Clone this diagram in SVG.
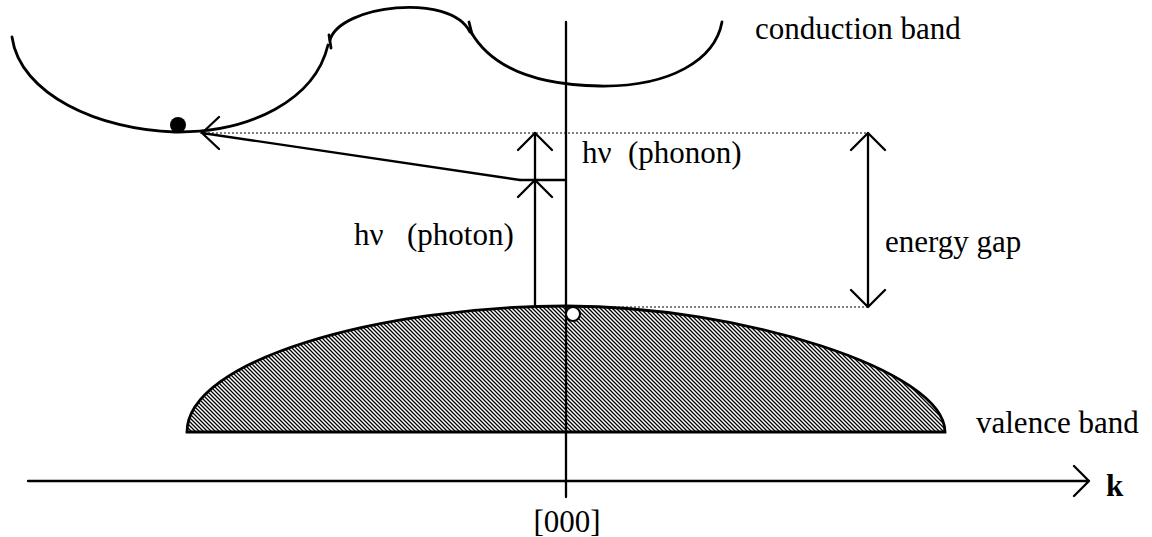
<svg xmlns="http://www.w3.org/2000/svg" width="1152" height="537" viewBox="0 0 1152 537">
<style>
.ln{stroke:#000;fill:none;stroke-width:2.3;stroke-linecap:round;stroke-linejoin:round}
.crv{stroke:#000;fill:none;stroke-width:2.8;stroke-linecap:round}
.dot{stroke:#000;fill:none;stroke-width:1;stroke-dasharray:2 2}
.t{font-family:"Liberation Serif","Times New Roman",serif;font-size:31px;fill:#000}
</style>
<defs>
<pattern id="hatch" patternUnits="userSpaceOnUse" width="4" height="4">
<path d="M-1,-1 L5,5 M-1,3 L1,5 M3,-1 L5,1" stroke="#000" stroke-width="1.3"/>
</pattern>
</defs>
<rect width="1152" height="537" fill="#fff"/>
<g id="valence-band">
<path d="M187,432 L945,432 C945,370 740,306 566,306 C380,306 187,360 187,432 Z" fill="url(#hatch)" stroke="#000" stroke-width="2.8"/>
<text class="t" x="976" y="433">valence band</text>
</g>
<g id="conduction-band">
<path class="crv" d="M12,37 C20,95 100,130 175,132 C250,133 315,100 328,45"/>
<path class="crv" d="M330,40 C340,5 450,-8 470,32"/>
<path class="crv" d="M471,32 C490,65 530,85 600,86 C670,87 715,60 722,22"/>
<path class="crv" d="M329,35 L331,48 M469,22 L472,34"/>
<text class="t" x="755" y="39">conduction band</text>
</g>
<g id="axes">
<path class="ln" d="M28,481 L1089,481 M1074,466 L1089,481 L1074,496"/>
<text class="t" x="1106" y="496" font-weight="bold">k</text>
<path class="ln" d="M566,22 L566,497"/>
<text class="t" x="567" y="532" text-anchor="middle">[000]</text>
</g>
<g id="electron"><circle cx="178" cy="125" r="8" fill="#000"/></g>
<g id="hole"><circle cx="573" cy="314" r="7" fill="#fff" stroke="#000" stroke-width="2"/></g>
<g id="connectors">
<path class="dot" d="M200,133 L868,133"/>
<path class="dot" d="M566,307 L868,307"/>
<path class="ln" d="M535,307 L535,180 M518,197 L535,180 L552,197"/>
<path class="ln" d="M535,180 L535,133 M518,150 L535,133 L552,150"/>
<path class="ln" stroke-width="1.5" d="M520,180 L566,180"/>
<path class="ln" stroke-width="2.6" d="M520,180 L202,133 M219,117 L202,133 L219,149"/>
<path class="ln" d="M868,133 L868,307 M851,150 L868,133 L885,150 M851,290 L868,307 L885,290"/>
</g>
<g id="labels">
<text class="t" x="582" y="163">hν</text><text class="t" x="628" y="163">(phonon)</text>
<text class="t" x="354" y="245">hν</text><text class="t" x="407" y="245">(photon)</text>
<text class="t" x="885" y="252">energy gap</text>
</g>
</svg>
